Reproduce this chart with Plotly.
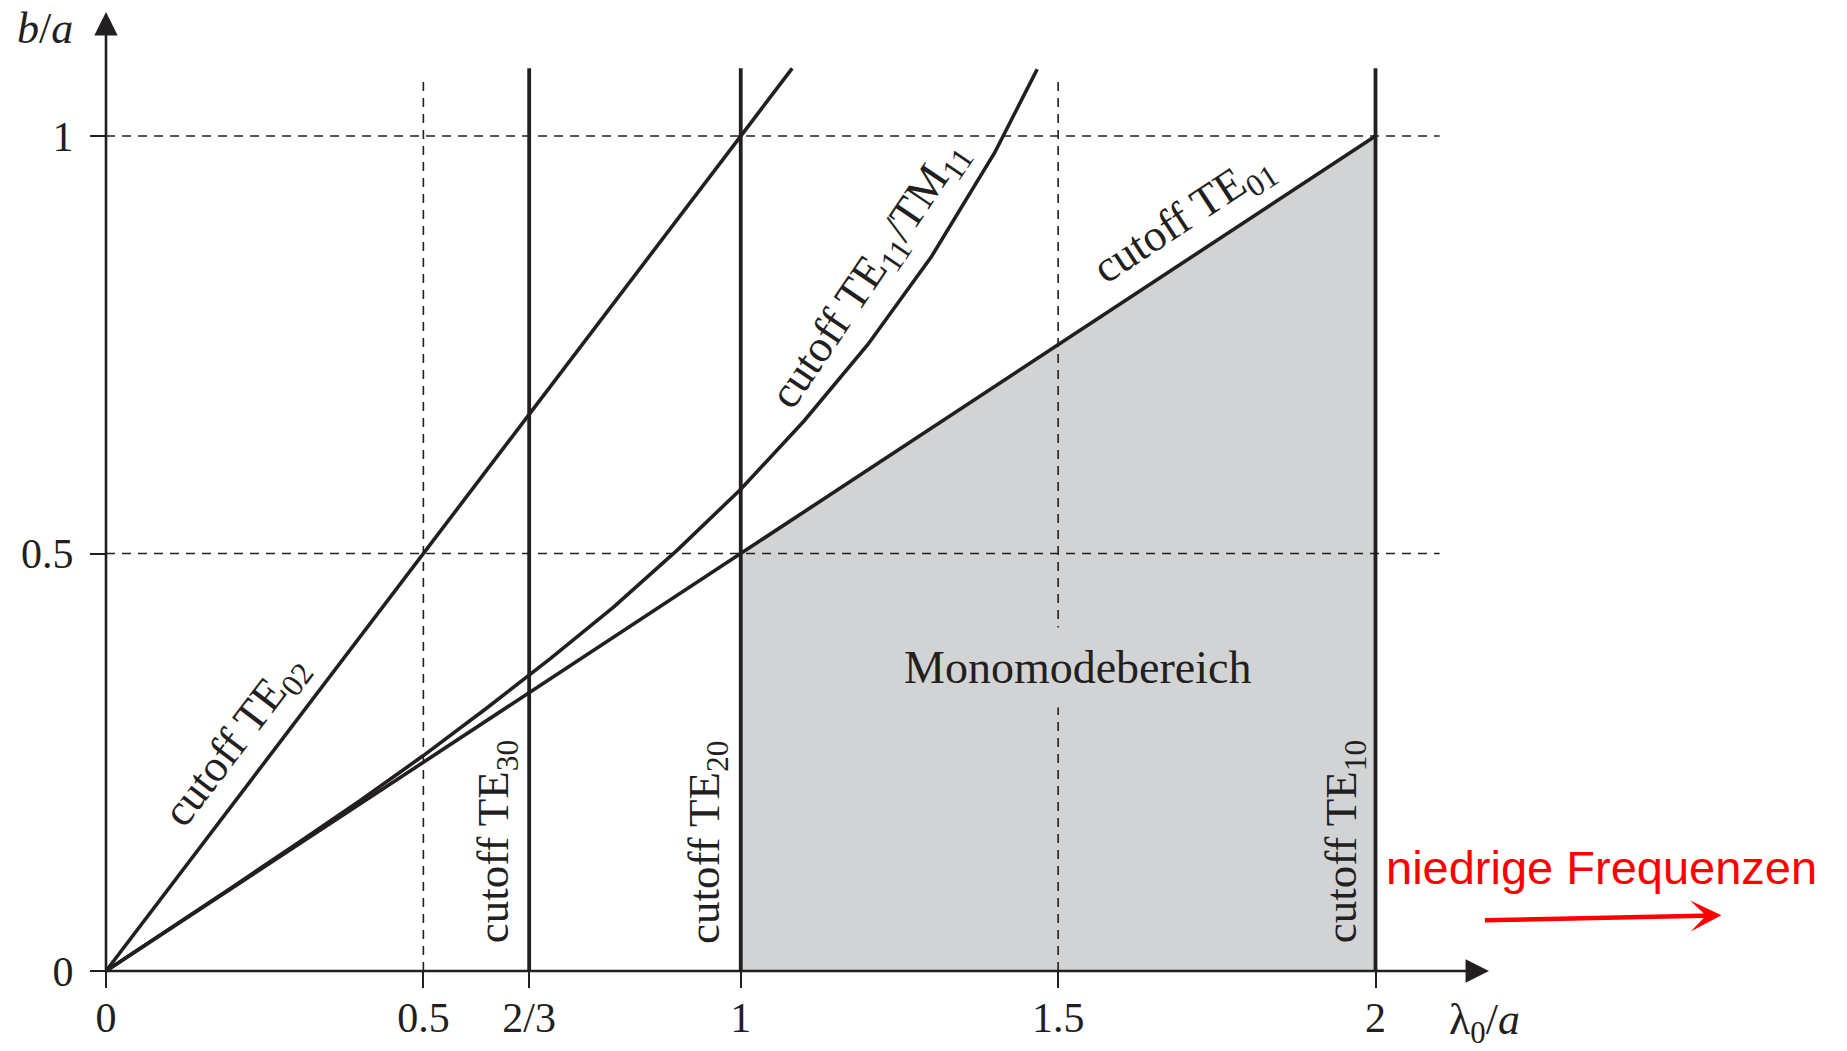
import plotly.graph_objects as go

# ---- data (normalised wavelength lambda0/a on x, aspect ratio b/a on y) ----
te02_x = [0.0, 1.081]          # cutoff TE02: b/a = lambda0/a
te02_y = [0.0, 1.081]
te01_x = [0.0, 2.0]            # cutoff TE01: b/a = lambda0/(2a)
te01_y = [0.0, 1.0]
te11_x = [0.0, 0.1, 0.2, 0.3, 0.4, 0.5, 0.6, 0.7, 0.8, 0.9, 1.0, 1.1, 1.2, 1.3, 1.4, 1.467]
te11_y = [0.0, 0.050, 0.101, 0.152, 0.204, 0.258, 0.315, 0.374, 0.436, 0.504, 0.577, 0.659,
          0.750, 0.855, 0.980, 1.080]
vertical_cutoffs = [2 / 3, 1.0, 2.0]   # TE30, TE20, TE10
vertical_top = 1.081
mono_x = [1.0, 1.0, 2.0, 2.0]
mono_y = [0.0, 0.5, 1.0, 0.0]
hgrid_vals = [0.5, 1.0]
hgrid_end = 2.101
vgrid_vals = [0.5, 1.5]
vgrid_top = 1.067
x_tickvals = [0, 0.5, 2 / 3, 1, 1.5, 2]
x_ticktext = ["0", "0.5", "2/3", "1", "1.5", "2"]
y_tickvals = [0, 0.5, 1]
y_ticktext = ["0", "0.5", "1"]
x_axis_end = 2.1788
y_axis_end = 1.1485

INK = "#231f20"
GREY = "#d1d3d4"
SERIF = "Liberation Serif"

# figure pixel geometry: origin at (106, 971) px, 634.75 px per x unit, 835 px per y unit
W, H = 1847, 1051
X0, Y0, SX, SY = 106.0, 971.0, 634.75, 835.0
x_range = [-X0 / SX, (W - X0) / SX]
y_range = [(Y0 - H) / SY, Y0 / SY]

fig = go.Figure()

# single-mode region
fig.add_trace(go.Scatter(x=mono_x, y=mono_y, fill="toself", fillcolor=GREY,
                         line=dict(width=0), mode="lines", hoverinfo="skip"))

# dashed helper lines
for yv in hgrid_vals:
    fig.add_trace(go.Scatter(x=[0, hgrid_end], y=[yv, yv], mode="lines",
                             line=dict(color=INK, width=1.6, dash="9px,7px")))
for xv in vgrid_vals:
    fig.add_trace(go.Scatter(x=[xv, xv], y=[0, vgrid_top], mode="lines",
                             line=dict(color=INK, width=1.6, dash="9px,7px")))

# cutoff curves
fig.add_trace(go.Scatter(x=te02_x, y=te02_y, mode="lines", line=dict(color=INK, width=3.6)))
fig.add_trace(go.Scatter(x=te01_x, y=te01_y, mode="lines", line=dict(color=INK, width=3.6)))
fig.add_trace(go.Scatter(x=te11_x, y=te11_y, mode="lines", line=dict(color=INK, width=3.6)))
for xv in vertical_cutoffs:
    fig.add_trace(go.Scatter(x=[xv, xv], y=[0, vertical_top], mode="lines",
                             line=dict(color=INK, width=3.8)))

annotations = []

# axes with arrow heads
annotations.append(dict(x=x_axis_end, y=0, ax=0, ay=0, xref="x", yref="y", axref="x", ayref="y",
                        text="", showarrow=True, arrowhead=2, arrowsize=1.8, arrowwidth=2.6,
                        arrowcolor=INK))
annotations.append(dict(x=0, y=y_axis_end, ax=0, ay=0, xref="x", yref="y", axref="x", ayref="y",
                        text="", showarrow=True, arrowhead=2, arrowsize=1.8, arrowwidth=2.6,
                        arrowcolor=INK))

# axis titles
annotations.append(dict(x=-0.096, y=1.129, xref="x", yref="y", showarrow=False,
                        text="<i>b</i>/<i>a</i>", font=dict(family=SERIF, size=44, color=INK)))
annotations.append(dict(x=2.171, y=-0.062, xref="x", yref="y", showarrow=False,
                        text="λ<sub>0</sub>/<i>a</i>", font=dict(family=SERIF, size=44, color=INK)))

# curve labels
lab_font = dict(family=SERIF, size=45, color=INK)
annotations += [
    dict(x=0.205, y=0.276, text="cutoff TE<sub>02</sub>", textangle=-52.7),
    dict(x=0.614, y=0.155, text="cutoff TE<sub>30</sub>", textangle=-90),
    dict(x=0.946, y=0.155, text="cutoff TE<sub>20</sub>", textangle=-90),
    dict(x=1.950, y=0.155, text="cutoff TE<sub>10</sub>", textangle=-90),
    dict(x=1.203, y=0.834, text="cutoff TE<sub>11</sub>/TM<sub>11</sub>", textangle=-56),
    dict(x=1.698, y=0.901, text="cutoff TE<sub>01</sub>", textangle=-33.3),
]
for a in annotations[-6:]:
    a.update(xref="x", yref="y", showarrow=False, font=lab_font)

annotations.append(dict(x=1.531, y=0.364, xref="x", yref="y", showarrow=False,
                        text="Monomodebereich", bgcolor=GREY, borderpad=14,
                        font=dict(family=SERIF, size=46, color=INK)))

# direction hint
annotations.append(dict(x=2.356, y=0.124, xref="x", yref="y", showarrow=False,
                        text="niedrige Frequenzen",
                        font=dict(family="Liberation Sans", size=47, color="#ff0000")))
annotations.append(dict(x=2.545, y=0.0667, ax=2.170, ay=0.0607, xref="x", yref="y",
                        axref="x", ayref="y", text="", showarrow=True, arrowhead=3,
                        arrowsize=1.15, arrowwidth=4.5, arrowcolor="#ff0000"))

fig.update_layout(
    width=W, height=H,
    margin=dict(l=0, r=0, t=0, b=0),
    paper_bgcolor="white", plot_bgcolor="white",
    showlegend=False,
    annotations=annotations,
    xaxis=dict(range=x_range, domain=[0, 1], anchor="free", position=(H - Y0) / H,
               showgrid=False, zeroline=False, showline=False,
               tickmode="array", tickvals=x_tickvals, ticktext=x_ticktext,
               ticks="outside", ticklen=16, tickwidth=2.4, tickcolor=INK,
               ticklabelstandoff=-6,
               tickfont=dict(family=SERIF, size=42, color=INK)),
    yaxis=dict(range=y_range, domain=[0, 1], anchor="free", position=X0 / W,
               showgrid=False, zeroline=False, showline=False,
               tickmode="array", tickvals=y_tickvals, ticktext=y_ticktext,
               ticks="outside", ticklen=16, tickwidth=2.4, tickcolor=INK,
               ticklabelstandoff=8,
               tickfont=dict(family=SERIF, size=42, color=INK)),
)

fig.write_html("out.html")
